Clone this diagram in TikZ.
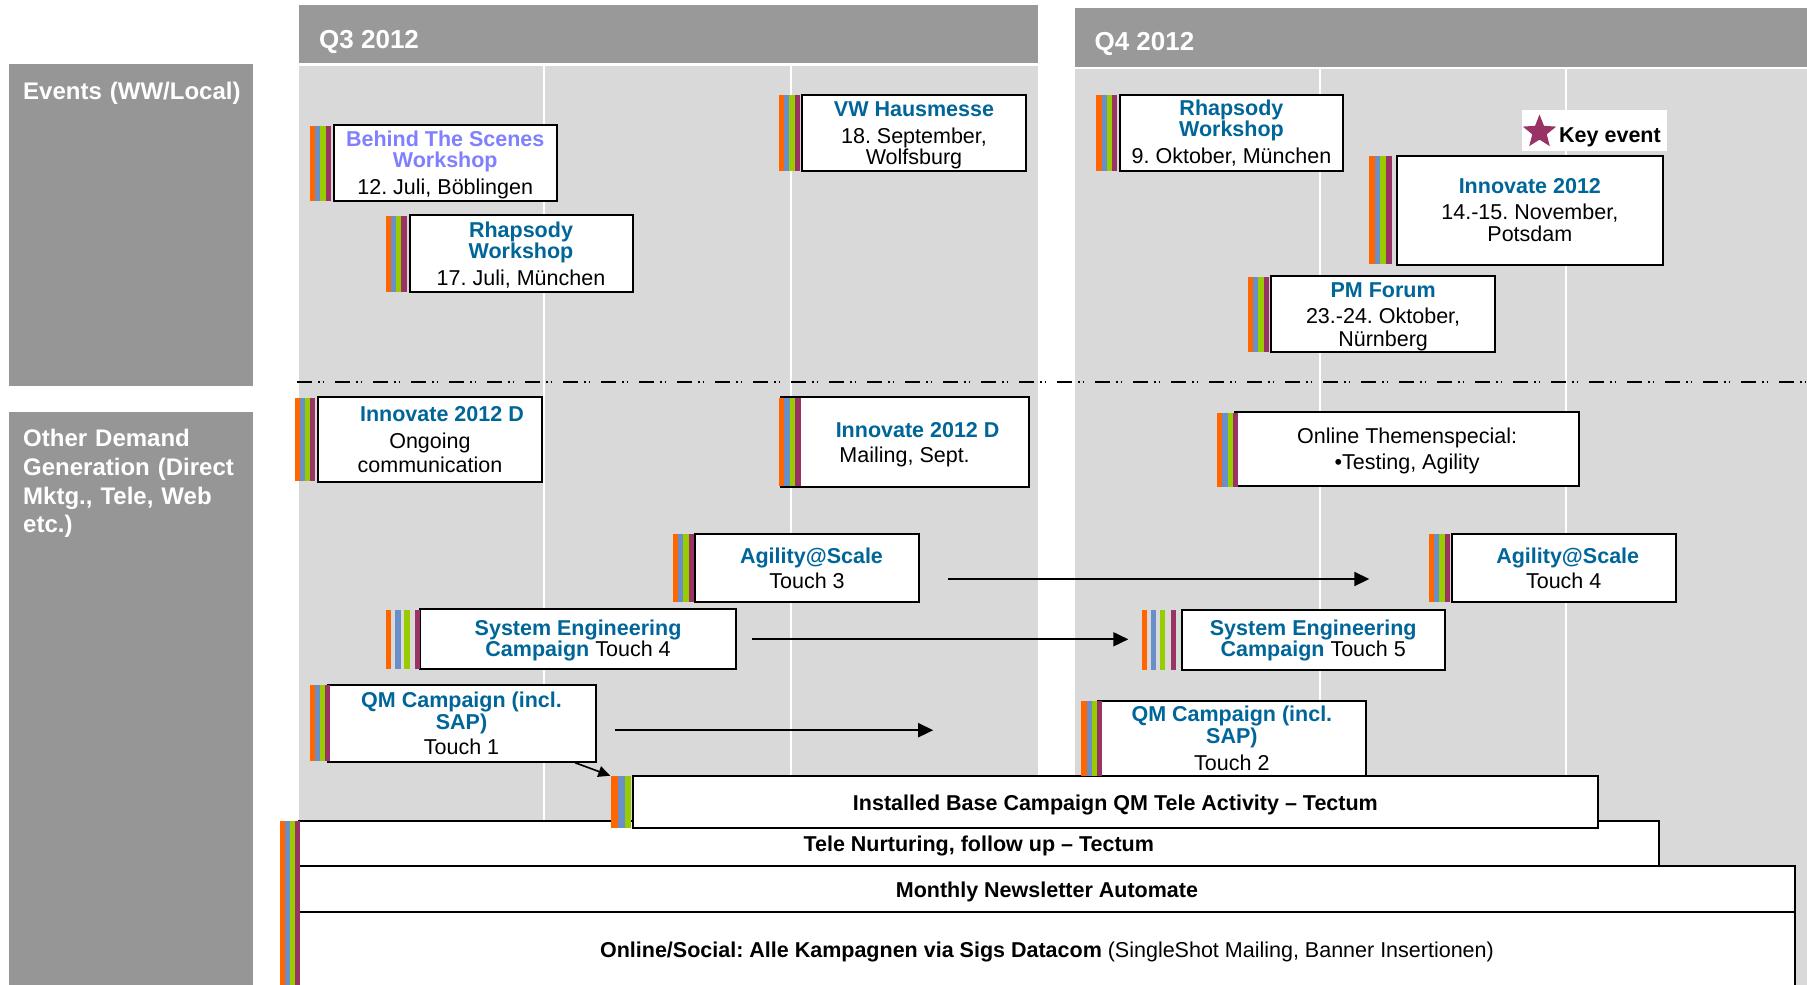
\documentclass[tikz,border=0pt]{standalone}
\usepackage{fontspec}
\setmainfont{Liberation Sans}
\usetikzlibrary{arrows.meta,calc,shapes.geometric}
\frenchspacing
\definecolor{barO}{HTML}{FF6600}
\definecolor{barB}{HTML}{6A8FC8}
\definecolor{barG}{HTML}{99CC00}
\definecolor{barP}{HTML}{993366}
\definecolor{tblue}{HTML}{006699}
\definecolor{lblue}{HTML}{8080FF}
\definecolor{hdrgrey}{HTML}{999999}
\definecolor{lblgrey}{HTML}{969696}
\definecolor{panelgrey}{HTML}{D9D9D9}
\definecolor{starc}{HTML}{993366}
\newcommand{\tb}[1]{\textcolor{tblue}{\bfseries #1}}
\newcommand{\lb}[1]{\textcolor{lblue}{\bfseries #1}}
\newcommand{\tp}[1][21pt]{\rule{0pt}{#1}}
\newcommand{\bxfont}{\fontsize{21.5}{21}\selectfont}
\newcommand{\hdfont}{\fontsize{26}{26}\selectfont\bfseries}
\newcommand{\lbfont}{\fontsize{24}{28.7}\selectfont\bfseries}
\newcommand{\cbars}[4]{%
  \fill[barO] (#1,#2) rectangle ({#1+#4},#3);
  \fill[barB] ({#1+#4},#2) rectangle ({#1+2*#4},#3);
  \fill[barG] ({#1+2*#4},#2) rectangle ({#1+3*#4},#3);
  \fill[barP] ({#1+3*#4},#2) rectangle ({#1+4*#4},#3);}
\newcommand{\sbars}[3]{%
  \fill[barO] (#1,#2) rectangle ({#1+5.3},#3);
  \fill[barB] ({#1+9.4},#2) rectangle ({#1+14.7},#3);
  \fill[barG] ({#1+18.6},#2) rectangle ({#1+23.9},#3);
  \fill[barP] ({#1+29.2},#2) rectangle ({#1+34.5},#3);}
\tikzset{
  evbox/.style={draw=black, line width=2pt, fill=white, inner sep=0pt, align=center, font=\bxfont},
  hdtext/.style={anchor=base west, inner sep=0pt, text=white, font=\hdfont},
  lbtext/.style={anchor=base west, inner sep=0pt, text=white, font=\lbfont, align=left, text width=235pt},
  arr/.style={line width=1.8pt, -{Triangle[length=15pt,width=14pt]}},
  smallarr/.style={line width=1.6pt, -{Triangle[length=12pt,width=11pt]}},
}
\begin{document}
\begin{tikzpicture}[x=1pt,y=-1pt]
\useasboundingbox (0,0) rectangle (1807,985);
\clip (0,0) rectangle (1807,985);
% headers
\fill[hdrgrey] (298.5,5.3) rectangle (1038,63.3);
\fill[hdrgrey] (1074.5,8) rectangle (1807,66.7);
\node[hdtext] (q3) at (319,48) {Q3 2012};
\node[hdtext] (q4) at (1094.4,50.5) {Q4 2012};
% panels
\fill[panelgrey] (298.5,65.6) rectangle (1038,985);
\fill[panelgrey] (1074.5,68.7) rectangle (1807,985);
\foreach \x in {544.2,790.6} \draw[white, line width=2pt] (\x,65.6) -- (\x,985);
\foreach \x in {1320,1566} \draw[white, line width=2pt] (\x,68.7) -- (\x,985);
% row labels
\fill[lblgrey] (9.2,64) rectangle (253.3,386);
\fill[lblgrey] (9.2,412) rectangle (253.3,985);
\node[lbtext] (lbl1) at (23,99) {Events (WW/Local)};
\node[lbtext] (lbl2) at (23,446.7) {Other Demand\\Generation (Direct\\Mktg., Tele, Web\\etc.)};
% separator
\draw[line width=2pt, dash pattern=on 15pt off 6pt on 1.5pt off 3pt on 1.5pt off 11pt] (297,381.7) -- (1807,381.7);
% events
\node[evbox, minimum width=223.1pt, minimum height=76pt] (bts) at (445.25,163) {\tp[19.2pt]\lb{Behind The Scenes}\\\lb{Workshop}\\[5.3pt]12. Juli, Böblingen};
\node[evbox, minimum width=223pt, minimum height=77.3pt] (rhj) at (521,253.65) {\tp[18.3pt]\tb{Rhapsody}\\\tb{Workshop}\\[6pt]17. Juli, München};
\node[evbox, minimum width=224pt, minimum height=76.6pt] (vw) at (914,133) {\tp[19.2pt]\tb{VW Hausmesse}\\[5.7pt]18. September,\\[0.3pt]Wolfsburg};
\node[evbox, minimum width=223.5pt, minimum height=76.6pt] (rho) at (1231.45,133) {\tb{Rhapsody}\\\tb{Workshop}\\[5.6pt]9. Oktober, München};
\node[evbox, minimum width=266.3pt, minimum height=109.3pt] (inn) at (1529.85,210.35) {\tb{Innovate 2012}\\[4.6pt]14.-15. November,\\[1.4pt]Potsdam};
\node[evbox, minimum width=223.8pt, minimum height=76pt] (pmf) at (1383.1,314.3) {\tp[19.2pt]\tb{PM Forum}\\[5.6pt]23.-24. Oktober,\\[1.4pt]Nürnberg};
% key event
\node[fill=white, minimum width=144.5pt, minimum height=40.7pt, inner sep=0pt] (key) at (1594.25,130.35) {};
\node[star, star points=5, star point ratio=2.3, fill=starc, minimum size=35pt, inner sep=0pt] (keystar) at (1539.5,132) {};
\node[anchor=base west, inner sep=0pt, font=\bxfont\bfseries] (keytext) at (1559,142.7) {Key event};
% other demand generation
\node[evbox, minimum width=224.7pt, minimum height=84.4pt] (ind1) at (429.95,439.5) {\hspace*{24pt}\tb{Innovate 2012 D}\\[5.6pt]Ongoing\\[3.4pt]communication};
\node[evbox, minimum width=248pt, minimum height=89.4pt] (ind2) at (904.6,442) {\hspace*{26pt}\tp\tb{Innovate 2012 D}\\[4pt]Mailing, Sept.};
\node[evbox, minimum width=344.6pt, minimum height=73.7pt] (ots) at (1407.1,449.15) {\tp[19.2pt]Online Themenspecial:\\[5pt]•Testing, Agility};
\node[evbox, minimum width=224pt, minimum height=68.6pt] (ag3) at (807,568) {\hspace*{9pt}\tb{Agility@Scale}\\[4pt]Touch 3};
\node[evbox, minimum width=224.2pt, minimum height=68.6pt] (ag4) at (1563.7,568) {\hspace*{8pt}\tb{Agility@Scale}\\[4pt]Touch 4};
\node[evbox, minimum width=315.7pt, minimum height=60pt] (se4) at (578.05,639.3) {\tp[17.5pt]\tb{System Engineering}\\\tb{Campaign} Touch 4};
\node[evbox, minimum width=263pt, minimum height=60pt] (se5) at (1313.2,640) {\tp[17.5pt]\tb{System Engineering}\\\tb{Campaign} Touch 5};
\node[evbox, minimum width=267.9pt, minimum height=77pt] (qm1) at (461.55,723.2) {\tb{QM Campaign (incl.}\\[1.3pt]\tb{SAP)}\\[4pt]Touch 1};
% long bars
\node[evbox, minimum width=1496.9pt, minimum height=76pt] (os) at (1046.95,949.7) {\tp\textbf{Online/Social: Alle Kampagnen via Sigs Datacom} (SingleShot Mailing, Banner Insertionen)};
\node[evbox, minimum width=1496.9pt, minimum height=45.7pt] (mn) at (1046.95,888.85) {\tp\textbf{Monthly Newsletter Automate}};
\node[evbox, minimum width=1360.4pt, minimum height=45.3pt] (tn) at (978.7,843.35) {\tp\textbf{Tele Nurturing, follow up – Tectum}};
\node[evbox, minimum width=965.6pt, minimum height=52pt] (ib) at (1115.4,802) {\tp\textbf{Installed Base Campaign QM Tele Activity – Tectum}};
\node[evbox, minimum width=267.7pt, minimum height=75.3pt] (qm2) at (1231.85,738.35) {\tb{QM Campaign (incl.}\\[0.7pt]\tb{SAP)}\\[5.6pt]Touch 2};
% colour bars
\cbars{310}{126}{201}{5.2}
\cbars{385.7}{216}{292}{5.2}
\cbars{778.7}{95}{171}{5.3}
\cbars{1096.4}{95}{171}{5.25}
\cbars{1368.8}{156}{264}{5.8}
\cbars{1248}{277}{352}{5.2}
\cbars{294.7}{398}{481}{5.15}
\cbars{778.7}{398}{486}{5.45}
\cbars{1217}{413}{487}{5.25}
\cbars{672.7}{534}{602}{5.3}
\cbars{1429.2}{534}{602}{5.1}
\sbars{385.8}{610}{669}
\sbars{1141.5}{610}{670}
\cbars{310}{685}{761}{5}
\cbars{1081.4}{701}{776}{5.15}
\fill[barO] (611.4,776) rectangle (618.1,828);
\fill[barB] (618.1,776) rectangle (624.8,828);
\fill[barG] (624.8,776) rectangle (631.4,828);
\cbars{280}{820.7}{990}{5}
% connectors
\coordinate (qmend) at ($(qm1.east)+(336.7,7)$);
\draw[arr] ($(ag3.east)+(28,11)$) -- ($(ag4.west)+(-81.3,11)$);
\draw[arr] ($(se4.east)+(15,0)$) -- ($(se4.east -| se5.west)+(-52.4,0)$);
\draw[arr] ($(qm1.east)+(18.5,7)$) -- (qmend);
\draw[smallarr] ($(qm1.south east)+(-21.5,0)$) -- ($(ib.north west)+(-21.3,0.7)$);
\end{tikzpicture}
\end{document}
